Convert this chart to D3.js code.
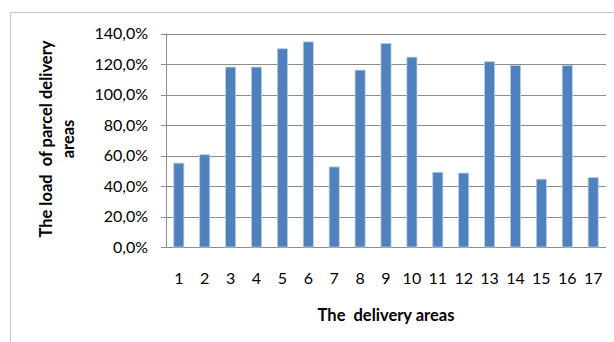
<!DOCTYPE html>
<html>
<head>
<meta charset="utf-8">
<script src="https://cdn.jsdelivr.net/npm/d3@7"></script>
<style>
  html, body { margin: 0; padding: 0; background: #fff; }
  svg { display: block; font-family: Lato, "Open Sans", sans-serif; }
</style>
</head>
<body>
<div id="chart"></div>
<script>
// Load of parcel delivery areas, one bar per area.

const areas = ["1","2","3","4","5","6","7","8","9","10","11","12","13","14","15","16","17"];
const load  = [55, 60.5, 118, 118, 130, 134.5, 52.5, 116, 133.5, 124.5, 49, 48.5, 121.5, 119, 44.5, 119, 45.5];
const yTicks = [0, 20, 40, 60, 80, 100, 120, 140];

const width = 614, height = 342;
const margin = { top: 33.5, right: 8, bottom: 95, left: 166 };

const svg = d3.select("#chart").append("svg")
  .attr("width", width).attr("height", height);

// chart frame (runs off right/bottom edge like the source)
svg.append("rect")
  .attr("x", 10.5).attr("y", 12.5).attr("width", 620).attr("height", 340)
  .attr("fill", "none").attr("stroke", "#c6c6c6").attr("stroke-width", 1);

const x = d3.scaleBand().domain(areas)
  .range([margin.left, width - margin.right]).paddingInner(0.61).paddingOuter(0.3);
const y = d3.scaleLinear().domain([0, 140]).range([height - margin.bottom, margin.top]);

const fmt = d => d.toFixed(1).replace(".", ",") + "%";

// gridlines
svg.append("g")
  .selectAll("line").data(yTicks).join("line")
  .attr("x1", margin.left - 5).attr("x2", width - margin.right)
  .attr("y1", d => Math.round(y(d)) + 0.5).attr("y2", d => Math.round(y(d)) + 0.5)
  .attr("stroke", "#8c8c8c").attr("stroke-width", 1);

// y axis line
svg.append("line")
  .attr("x1", margin.left + 0.5).attr("x2", margin.left + 0.5)
  .attr("y1", y(140)).attr("y2", y(0))
  .attr("stroke", "#8c8c8c");

// bars
svg.append("g")
  .selectAll("rect").data(areas).join("rect")
  .attr("x", d => x(d)).attr("width", x.bandwidth())
  .attr("y", (d, i) => y(load[i])).attr("height", (d, i) => y(0) - y(load[i]))
  .attr("fill", "#4f81bd").attr("stroke", "#b9cde5").attr("stroke-width", 0.8);

// y tick labels
svg.append("g")
  .selectAll("text").data(yTicks).join("text")
  .attr("x", 148).attr("y", d => y(d)).attr("dy", "0.35em")
  .attr("text-anchor", "end").attr("font-size", 16).attr("fill", "#000")
  .text(fmt);

// x tick labels
svg.append("g")
  .selectAll("text").data(areas).join("text")
  .attr("x", d => x(d) + x.bandwidth() / 2).attr("y", 278).attr("dy", "0.35em")
  .attr("text-anchor", "middle").attr("font-size", 16).attr("fill", "#000")
  .text(d => d);

// axis titles
svg.append("text")
  .attr("x", 386).attr("y", 315).attr("dy", "0.35em")
  .attr("text-anchor", "middle").attr("font-size", 16.5).attr("font-weight", "bold")
  .style("white-space", "pre")
  .text("The  delivery areas");

const yt = svg.append("text")
  .attr("transform", "translate(57,139) rotate(-90)")
  .attr("text-anchor", "middle").attr("font-size", 16.5).attr("font-weight", "bold")
  .style("white-space", "pre");
yt.append("tspan").attr("x", 0).attr("y", -11).attr("dy", "0.35em").text("The load  of parcel delivery");
yt.append("tspan").attr("x", 0).attr("y", 11).attr("dy", "0.35em").text("areas");
</script>
</body>
</html>
